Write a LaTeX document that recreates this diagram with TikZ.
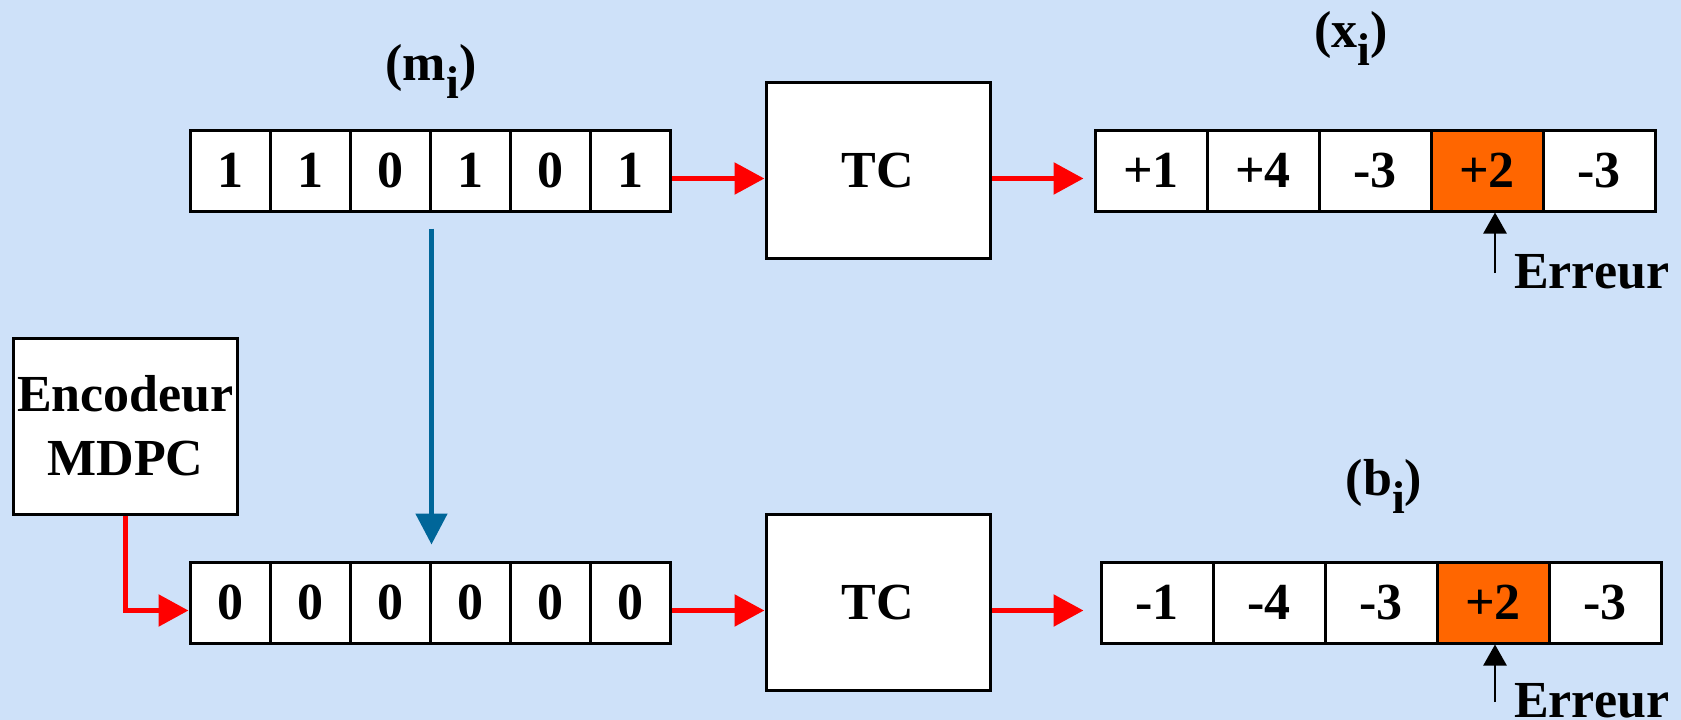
\documentclass[tikz,border=0pt]{standalone}
\usepackage{fontspec}
\setmainfont{Liberation Serif}
\usetikzlibrary{arrows.meta,calc}
\definecolor{paper}{RGB}{206,225,249}
\definecolor{errorange}{RGB}{255,102,0}
\definecolor{flowred}{RGB}{255,0,0}
\definecolor{flowblue}{RGB}{0,102,153}
\begin{document}
\begin{tikzpicture}[x=1pt,y=-1pt,
  txt/.style={font=\fontsize{52}{64}\selectfont\bfseries},
  bitcell/.style={draw,line width=3pt,fill=white,minimum width=80pt,minimum height=81pt,inner sep=0pt,txt},
  valcell/.style={bitcell,minimum width=112pt},
  block/.style={draw,line width=3pt,fill=white,minimum width=224pt,minimum height=176pt,inner sep=0pt,txt,align=center},
  flow/.style={draw=flowred,line width=5.5pt,-{Triangle[length=30pt,width=31pt]}},
  feed/.style={draw=flowblue,line width=5pt,-{Triangle[length=31pt,width=31pt]}},
  errarrow/.style={draw=black,line width=2.5pt,-{Triangle[length=21pt,width=23pt]}},
  seqlabel/.style={txt,inner sep=0pt,anchor=base},
  errlabel/.style={txt,inner sep=0pt,anchor=base west}
]
% page and background
\fill[paper] (0,0) rectangle (1681,720);
\useasboundingbox (0,0) rectangle (1681,720);

% message bits m_i
\foreach \v [count=\k] in {1,1,0,1,0,1}
  \node[bitcell] (m\k) at ({150+80*\k},170.5) {\v};
% all-zero word
\foreach \v [count=\k] in {0,0,0,0,0,0}
  \node[bitcell] (z\k) at ({150+80*\k},602.5) {\v};

% transform blocks
\node[block] (tc1) at (878,170.5) {TC};
\node[block] (tc2) at (878,602.5) {TC};
\node[block] (enc) at (125.5,426) {Encodeur\\MDPC};

% transformed values x_i
\foreach \v [count=\k] in {+1,+4,-3,+2,-3}
  \node[valcell] (x\k) at ({1039+112*\k},170.5) {\v};
\node[valcell,fill=errorange] at (x4) {+2};
% transformed values b_i
\foreach \v [count=\k] in {-1,-4,-3,+2,-3}
  \node[valcell] (b\k) at ({1045+112*\k},602.5) {\v};
\node[valcell,fill=errorange] at (b4) {+2};

% sequence labels
\node[seqlabel] (mlab) at (431,80) {(m\raisebox{-18pt}{\fontsize{46}{46}\selectfont i})};
\node[seqlabel] (xlab) at (1351,47) {(x\raisebox{-18pt}{\fontsize{46}{46}\selectfont i})};
\node[seqlabel] (blab) at (1384,495) {(b\raisebox{-18pt}{\fontsize{46}{46}\selectfont i})};

% data flow
\draw[flow] ([yshift=-8pt]m6.east) -- ([yshift=-8pt]tc1.west);
\draw[flow] ([yshift=-8pt]tc1.east) -- ([yshift=-8pt,xshift=-10pt]x1.west);
\draw[flow] ([yshift=-8pt]z6.east) -- ([yshift=-8pt]tc2.west);
\draw[flow] ([yshift=-8pt]tc2.east) -- ([yshift=-8pt,xshift=-16pt]b1.west);
\draw[flow] (enc.south) |- ([yshift=-8pt]z1.west);
\draw[feed] ([yshift=-16pt]m3.south east) -- ([yshift=16pt]z3.north east);

% error markers
\node[errlabel] (err1) at (1514,288) {Erreur};
\node[errlabel] (err2) at (1514,717) {Erreur};
\coordinate (e1) at (1495,273);
\coordinate (e2) at (1495,702);
\draw[errarrow] (e1) -- (e1 |- x4.south);
\draw[errarrow] (e2) -- (e2 |- b4.south);
\end{tikzpicture}
\end{document}
